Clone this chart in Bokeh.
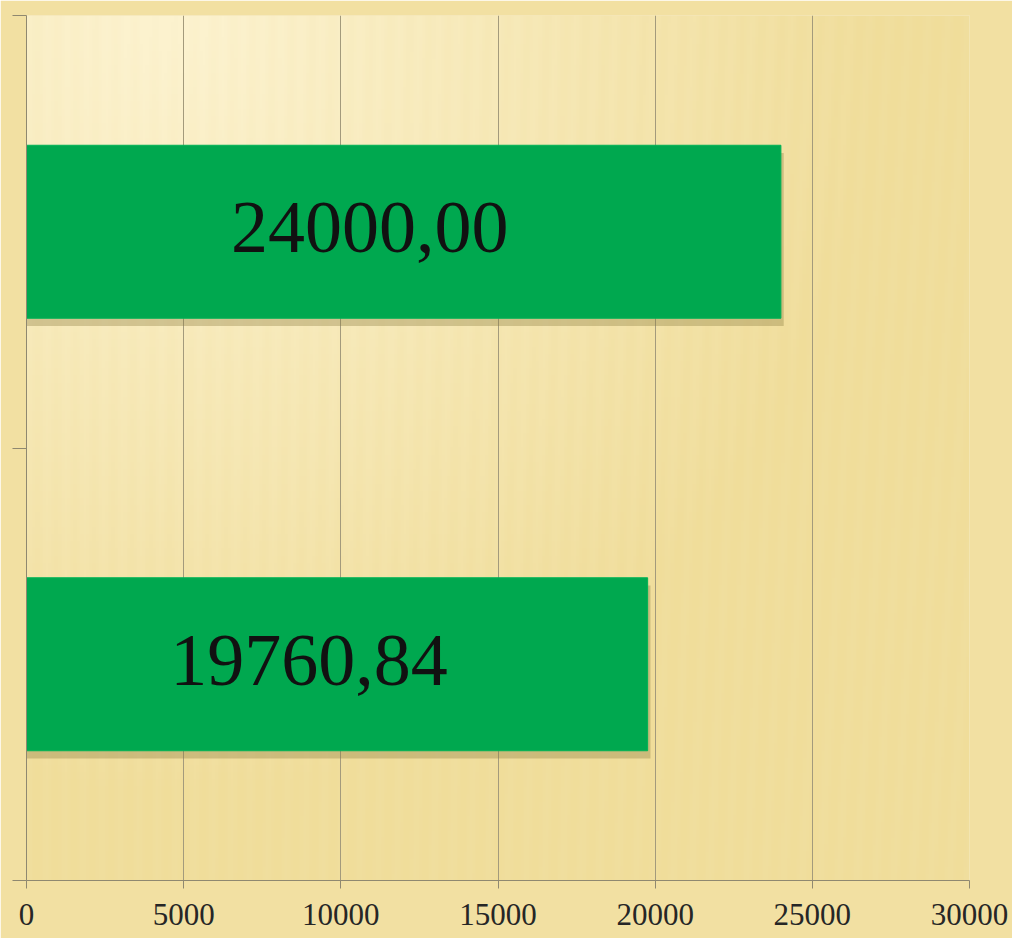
import numpy as np
from bokeh.plotting import figure
from bokeh.models import ColumnDataSource, FixedTicker, Range1d
from bokeh.core.properties import value
from bokeh.embed import file_html
from bokeh.resources import INLINE

# Data
categories = ["2", "1"]             # bottom, top
values = [19760.84, 24000.00]
labels = ["19760,84", "24000,00"]
x_ticks = [0, 5000, 10000, 15000, 20000, 25000, 30000]

ypos = [i + 0.5 for i in range(len(categories))]
src = ColumnDataSource(dict(
    y=ypos,
    v=values,
    lab=labels,
    lx=[v * 0.455 for v in values],
    sy=[y - 0.018 for y in ypos],
    sv=[v + 90 for v in values],
))

BG = "#f2e0a2"
p = figure(width=1012, height=938, output_backend="svg", toolbar_location=None,
           x_range=Range1d(0, 30000), y_range=Range1d(0, len(categories)),
           min_border_left=26, min_border_right=43, min_border_top=15, min_border_bottom=58,
           background_fill_color=BG, border_fill_color=BG, outline_line_color=None)

# decorative background: soft light glow top-left with faint vertical stripes
W, H = 300, 120
gx = np.linspace(0, 1, W)[None, :]
gy = np.linspace(0, 1, H)[:, None]          # 0 = bottom, 1 = top
glow = np.clip(1.0 - np.sqrt(((gx - 0.15) / 0.75) ** 2 + ((1 - gy) / 0.9) ** 2), 0, 1)
stripe = 0.5 + 0.5 * np.cos(2 * np.pi * (gx * 48 + (1 - gy) * 3 * gx))
light = np.array([252, 242, 206])
dark = np.array([240, 221, 154])
t = np.clip(glow * 1.0 + 0.08 * stripe, 0, 1)[..., None]
rgb = dark + (light - dark) * t
img = np.empty((H, W), dtype=np.uint32)
view = img.view(dtype=np.uint8).reshape((H, W, 4))
view[..., 0] = rgb[..., 0]
view[..., 1] = rgb[..., 1]
view[..., 2] = rgb[..., 2]
view[..., 3] = 255
bg = p.image_rgba(image=[img], x=0, y=0, dw=30000, dh=len(categories))
bg.level = "image"

# shadow
p.hbar(y="sy", right="sv", left=0, height=0.4, source=src,
       fill_color="#8a7a40", fill_alpha=0.35, line_color=None)
# bars
p.hbar(y="y", right="v", left=0, height=0.4, source=src,
       fill_color="#00a84f", line_color="#00b356", line_width=1)

p.text(x="lx", y="y", text="lab", source=src, text_align="center", text_baseline="middle",
       y_offset=-4,
       text_font=value("Liberation Serif"), text_font_size="74px", text_color="#111111")

# x axis
p.xaxis.ticker = FixedTicker(ticks=x_ticks)
p.xaxis.axis_line_color = "#8f8870"
p.xaxis.major_tick_line_color = "#8f8870"
p.xaxis.major_tick_out = 8
p.xaxis.major_tick_in = 0
p.xaxis.minor_tick_line_color = None
p.xaxis.major_label_text_font = "Liberation Serif"
p.xaxis.major_label_text_font_size = "31px"
p.xaxis.major_label_text_color = "#262626"
p.xaxis.major_label_standoff = 15

# y axis
p.yaxis.ticker = FixedTicker(ticks=[0, 1, 2])
p.yaxis.major_label_overrides = {0: "", 1: "", 2: ""}
p.yaxis.major_label_standoff = 0
p.yaxis.axis_line_color = "#8f8870"
p.yaxis.major_tick_line_color = "#8f8870"
p.yaxis.major_tick_out = 14
p.yaxis.major_tick_in = 0
p.yaxis.minor_tick_line_color = None

p.xgrid.ticker = FixedTicker(ticks=x_ticks)
p.xgrid.grid_line_color = "#a39a7c"
p.xgrid.grid_line_width = 1
p.ygrid.grid_line_color = None

open("out.html", "w").write(file_html(p, INLINE))
